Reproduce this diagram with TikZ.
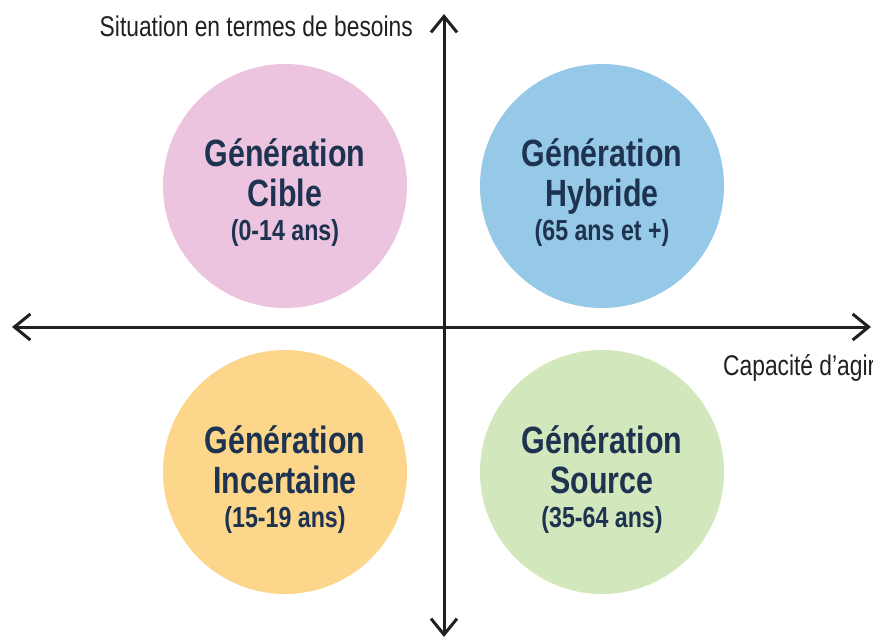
\documentclass[tikz,border=0pt]{standalone}
\usepackage{fontspec}
\setmainfont{Liberation Sans}[FakeStretch=0.8]
\usetikzlibrary{arrows.meta}
\definecolor{inkaxis}{HTML}{231F20}
\definecolor{inktext}{HTML}{1E3350}
\definecolor{cpink}{HTML}{EDC4DF}
\definecolor{cblue}{HTML}{96C9E7}
\definecolor{cyellow}{HTML}{FCD68A}
\definecolor{cgreen}{HTML}{D2E7BC}
\begin{document}
\begin{tikzpicture}[x=1pt,y=-1pt,
  axis/.style={draw=inkaxis,line width=3pt,line cap=round,line join=round,
    {Straight Barb[length=16pt,width=26pt,line width=3pt]}-{Straight Barb[length=16pt,width=26pt,line width=3pt]}},
  disc/.style={circle,minimum size=244pt,inner sep=0pt,draw=none},
  big/.style={text=inktext,font=\fontsize{38}{38}\selectfont\bfseries,anchor=base,inner sep=0pt},
  small/.style={text=inktext,font=\fontsize{29}{29}\selectfont\bfseries,anchor=base,inner sep=0pt},
  axlabel/.style={text=inkaxis,font=\fontsize{28.5}{28.5}\selectfont,inner sep=0pt}]
\useasboundingbox (0,0) rectangle (873,639);
% the four generation discs
\node[disc,fill=cpink]   (cible)     at (285,186) {};
\node[disc,fill=cblue]   (hybride)   at (602,186) {};
\node[disc,fill=cyellow] (incert)    at (285,472) {};
\node[disc,fill=cgreen]  (source)    at (602,472) {};
% axes
\coordinate (ytop) at (444,14);
\coordinate (ybot) at (444,637);
\coordinate (xleft) at (12,327);
\coordinate (xright) at (871,327);
\draw[axis] (ybot) -- (ytop);
\draw[axis] (xleft) -- (xright);
% axis labels
\node[axlabel,anchor=base east] (ylab) at (413,37) {Situation en termes de besoins};
\node[axlabel,anchor=base west] (xlab) at (723,375) {Capacité d’agir};
% disc labels
\foreach \n/\a/\b in {cible/Cible/(0-14 ans), hybride/Hybride/(65 ans et +), incert/Incertaine/(15-19 ans), source/Source/(35-64 ans)}{
  \node[big]   (\n-l1) at ([yshift=19pt]\n.center) {Génération};
  \node[big]   (\n-l2) at ([yshift=-21pt]\n.center) {\a};
  \node[small] (\n-l3) at ([yshift=-55pt]\n.center) {\b};
}
\end{tikzpicture}
\end{document}
